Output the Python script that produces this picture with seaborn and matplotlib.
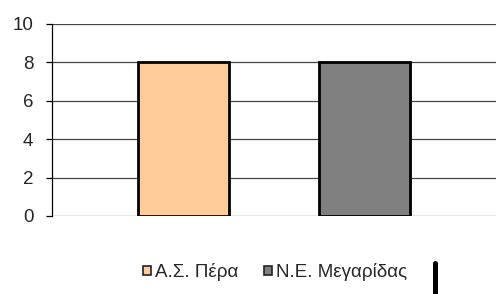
import pandas as pd
import seaborn as sns
import matplotlib.pyplot as plt
from matplotlib.lines import Line2D

series = ['Α.Σ. Πέρα', 'Ν.Ε. Μεγαρίδας']
values = [8, 8]
colors = ['#FFCC99', '#808080']
category = ['']

df = pd.DataFrame({'cat': category * len(series), 'series': series, 'value': values})

sns.set_style('white')
plt.rcParams['font.family'] = ['Liberation Sans', 'DejaVu Sans']

fig = plt.figure(figsize=(4.96, 2.94), dpi=100)
ax = fig.add_axes([52 / 496, 1 - 216 / 294, 444 / 496, 192 / 294])

sns.barplot(data=df, x='cat', y='value', hue='series', palette=colors,
            saturation=1, width=0.8, gap=0.5, edgecolor='black', linewidth=2,
            ax=ax, zorder=3)

ax.set_ylim(0, 10)
ax.set_xlim(-0.49, 0.49)
ax.set_yticks(range(0, 11, 2))
ax.yaxis.grid(True, color='#444444', linewidth=0.9, zorder=0)
ax.set_axisbelow(True)
ax.set_xlabel('')
ax.set_ylabel('')
ax.set_xticks([])
for s in ['top', 'right', 'bottom']:
    ax.spines[s].set_visible(False)
ax.spines['left'].set_color('black')
ax.spines['left'].set_linewidth(0.9)
ax.tick_params(axis='y', left=True, length=4.5, width=0.9, color='black',
               pad=9, labelsize=13.5)

ax.legend_.remove()
handles = [plt.Rectangle((0, 0), 1, 1, facecolor=c, edgecolor='#222222', linewidth=1.2)
           for c in colors]
fig.legend(handles, series, loc='center', bbox_to_anchor=(275 / 496, 1 - 272 / 294),
           ncol=2, frameon=False, fontsize=13.5, handlelength=0.4, handleheight=0.4,
           handletextpad=0.2, columnspacing=1.4)

# dark bar at the right of the legend, as in the source image
fig.add_artist(Line2D([434.5 / 496, 434.5 / 496], [0, 1 - 263 / 294],
                      color='black', linewidth=3.6))

fig.savefig('out.png', dpi=100)
